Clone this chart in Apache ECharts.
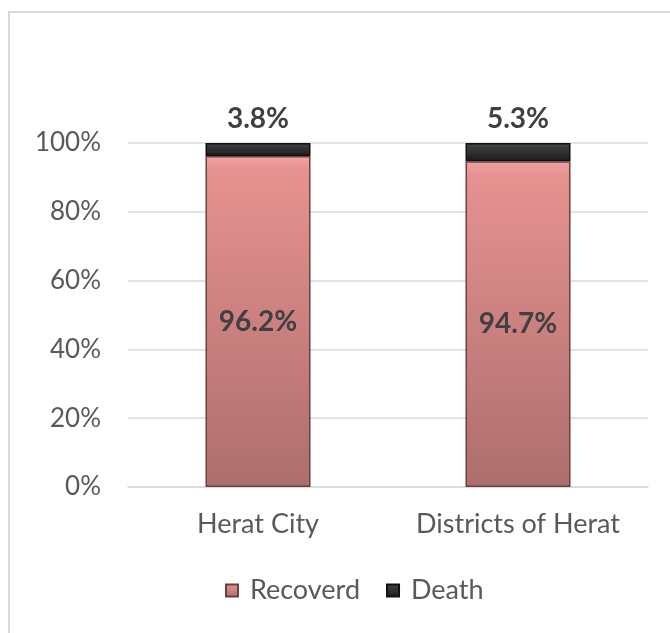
<!DOCTYPE html>
<html>
<head>
<meta charset="utf-8">
<script src="https://cdn.jsdelivr.net/npm/echarts@6/dist/echarts.min.js"></script>
<style>
  html, body { margin: 0; padding: 0; background: #fff; }
  #chart { width: 670px; height: 633px; }
</style>
</head>
<body>
<div id="chart"></div>
<script>
var categories = ['Herat City', 'Districts of Herat'];
var recovered = [96.2, 94.7];
var death = [3.8, 5.3];
var seriesNames = ['Recoverd', 'Death'];
var yTicks = [0, 20, 40, 60, 80, 100];

var fontFamily = 'Lato, "Open Sans", sans-serif';

var pinkFill = new echarts.graphic.LinearGradient(0, 0, 0, 1, [
    { offset: 0, color: '#f0a4a2' },
    { offset: 0.04, color: '#e69290' },
    { offset: 1, color: '#ad6e6e' }
]);
var darkFill = new echarts.graphic.LinearGradient(0, 0, 0, 1, [
    { offset: 0, color: '#444' },
    { offset: 1, color: '#1c1c1c' }
]);

var option = {
    backgroundColor: '#fff',
    animation: false,
    graphic: [{
        type: 'rect',
        shape: { x: 9, y: 12, width: 700, height: 700 },
        style: { fill: 'none', stroke: '#d9d9d9', lineWidth: 2 },
        silent: true
    }],
    grid: {
        left: 128,
        right: 22,
        top: 143,
        bottom: 146
    },
    legend: {
        bottom: 24,
        left: 220,
        itemWidth: 12,
        itemHeight: 12,
        itemGap: 26,
        icon: 'rect',
        formatter: function (name) { return ' ' + name; },
        textStyle: { fontFamily: fontFamily, fontSize: 27, color: '#595959' },
        data: seriesNames
    },
    xAxis: {
        type: 'category',
        data: categories,
        axisLine: { lineStyle: { color: '#d9d9d9', width: 1.5 } },
        axisTick: { show: false },
        axisLabel: { interval: 0, fontFamily: fontFamily, fontSize: 27, color: '#595959', margin: 24 }
    },
    yAxis: {
        type: 'value',
        min: yTicks[0],
        max: yTicks[yTicks.length - 1],
        interval: 20,
        axisLine: { show: false },
        axisTick: { show: false },
        splitLine: { lineStyle: { color: '#d9d9d9', width: 1.5 } },
        axisLabel: {
            fontFamily: fontFamily, fontSize: 26, color: '#595959', margin: 27,
            formatter: function (v) { return v + '%'; }
        }
    },
    series: [{
        name: seriesNames[0],
        type: 'bar',
        stack: 'total',
        barWidth: 105,
        data: recovered,
        itemStyle: { color: pinkFill, borderColor: '#6e3f3f', borderWidth: 1.5 },
        label: {
            show: true,
            position: 'inside',
            fontFamily: fontFamily,
            fontSize: 28,
            fontWeight: 'bold',
            color: '#404040',
            formatter: function (p) { return p.value.toFixed(1) + '%'; }
        }
    }, {
        name: seriesNames[1],
        type: 'bar',
        stack: 'total',
        barWidth: 105,
        data: death,
        itemStyle: { color: darkFill, borderColor: '#111', borderWidth: 1.5 },
        label: {
            show: true,
            position: 'top',
            distance: 10,
            fontFamily: fontFamily,
            fontSize: 28,
            fontWeight: 'bold',
            color: '#404040',
            formatter: function (p) { return p.value.toFixed(1) + '%'; }
        }
    }]
};

var myChart = echarts.init(document.getElementById('chart'));
myChart.setOption(option);
</script>
</body>
</html>
